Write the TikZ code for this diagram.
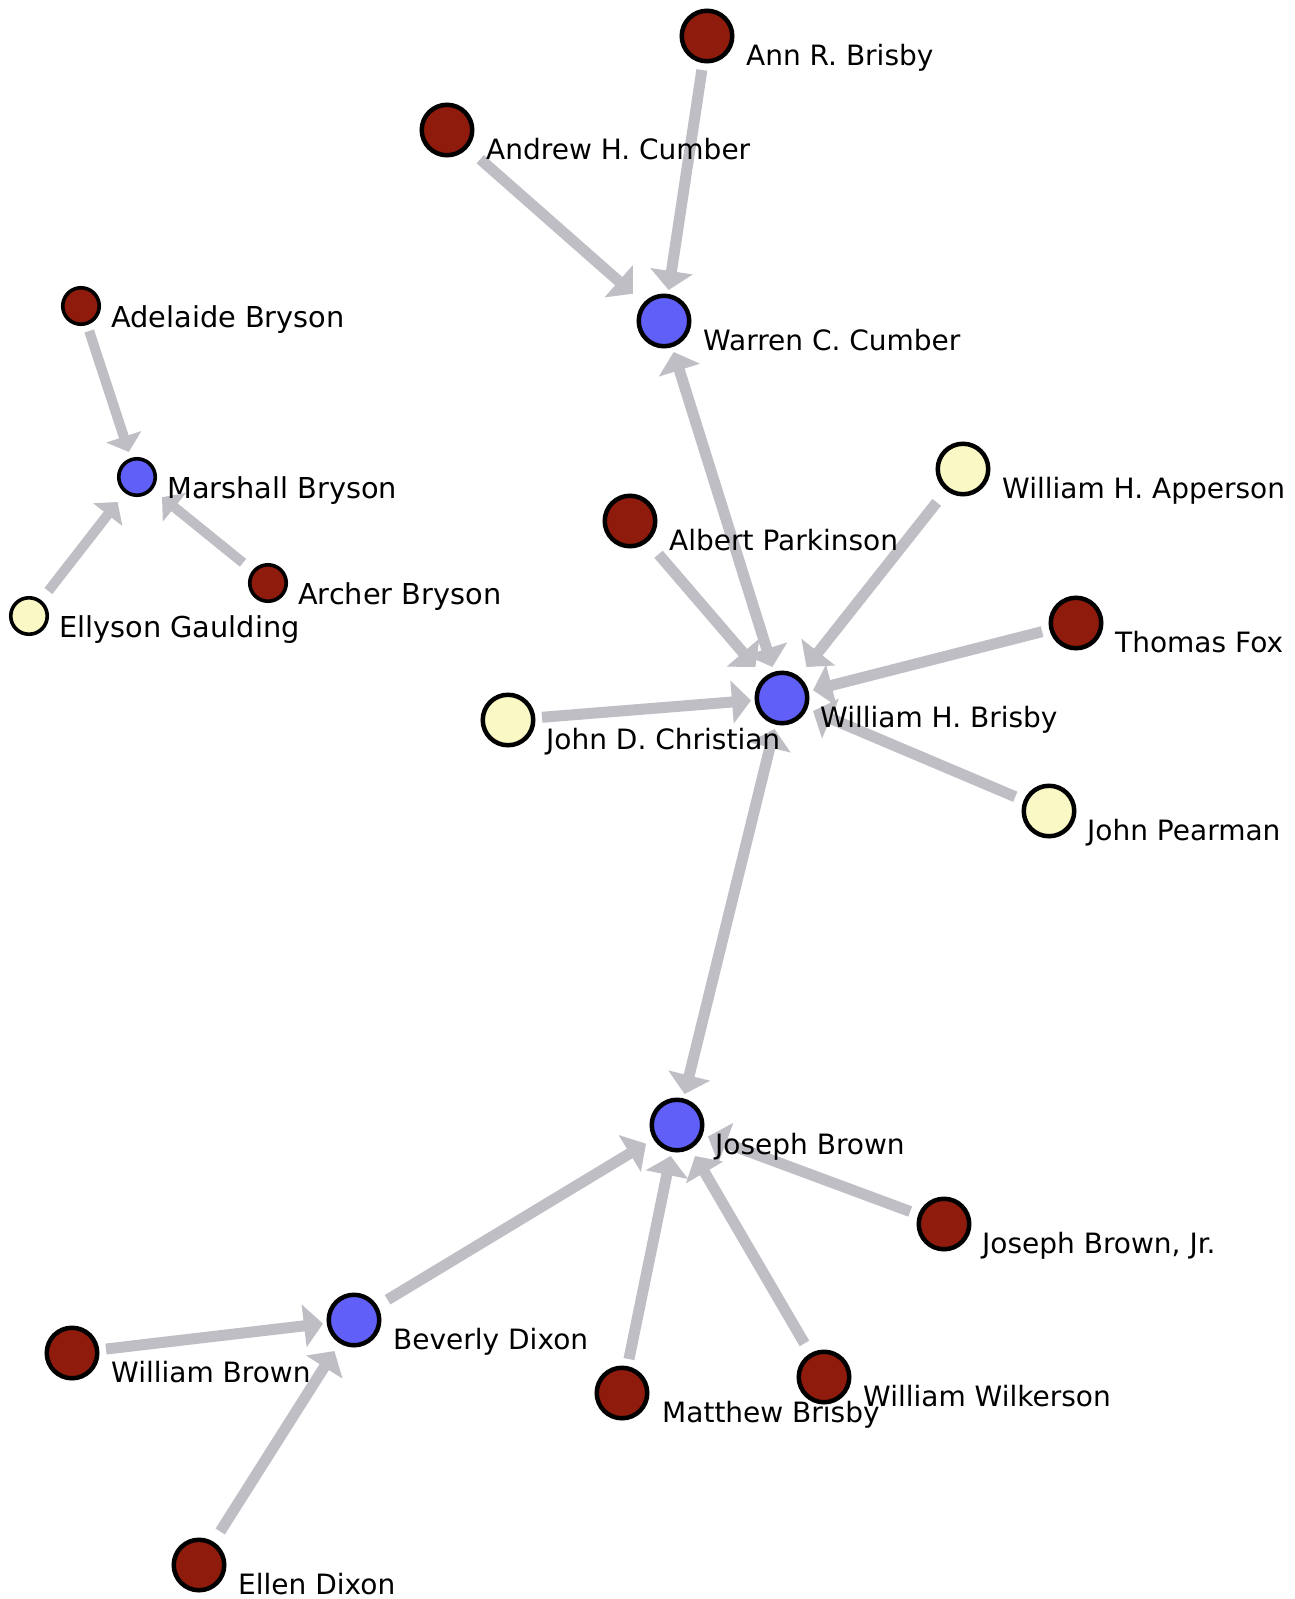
\documentclass[tikz,border=0pt]{standalone}
\usepackage{fontspec}
\setmainfont{DejaVu Sans}
\usetikzlibrary{arrows.meta}
\definecolor{edgegray}{RGB}{190,190,196}
\definecolor{kinred}{RGB}{142,27,12}
\definecolor{kinblue}{RGB}{96,96,248}
\definecolor{kinyellow}{RGB}{250,248,196}
\begin{document}
\begin{tikzpicture}[x=1pt,y=-1pt,
  hub/.style={rectangle, minimum size=62pt, inner sep=0pt, outer sep=0pt},
  hubsmall/.style={rectangle, minimum size=50pt, inner sep=0pt, outer sep=0pt},
  disc/.style={circle, draw=black, line width=4.5pt, minimum size=50.5pt, inner sep=0pt},
  discsmall/.style={circle, draw=black, line width=3.6pt, minimum size=36.5pt, inner sep=0pt},
  personlabel/.style={font=\fontsize{28}{28}\selectfont, anchor=base west, inner sep=0pt, text=black},
  smalllabel/.style={personlabel, font=\fontsize{28.8}{29}\selectfont},
  link/.style={draw=edgegray, line width=11pt, -{Triangle[width=42pt,length=19pt]}, shorten <=3pt},
  mutual/.style={draw=edgegray, line width=11pt, {Triangle[width=42pt,length=19pt]}-{Triangle[width=42pt,length=19pt]}},
  slink/.style={draw=edgegray, line width=10pt, -{Triangle[width=36pt,length=16pt]}},
]
\useasboundingbox (0,0) rectangle (1295,1599);
\fill[white] (0,0) rectangle (1295,1599);

% edge anchors: square boxes around each person
\node[hub] (annR) at (707,36) {};
\node[hub] (andrew) at (447,130) {};
\node[hub] (warren) at (664,321) {};
\node[hubsmall] (adelaide) at (81,306) {};
\node[hubsmall] (marshall) at (137,477) {};
\node[hubsmall] (archer) at (268,583) {};
\node[hubsmall] (ellyson) at (29,616) {};
\node[hub] (apperson) at (963,469) {};
\node[hub] (albert) at (630,521) {};
\node[hub] (thomasFox) at (1076,623) {};
\node[hub] (williamHB) at (782,698) {};
\node[hub] (johnDC) at (508,720) {};
\node[hub] (pearman) at (1049,811) {};
\node[hub] (josephB) at (677,1125) {};
\node[hub] (josephJr) at (944,1224) {};
\node[hub] (beverly) at (354,1320) {};
\node[hub] (williamBrown) at (72,1353) {};
\node[hub] (matthew) at (622,1393) {};
\node[hub] (wilkerson) at (824,1377) {};
\node[hub] (ellen) at (199,1565) {};

% connectors
\draw[link] (annR) -- (warren);
\draw[link] (andrew) -- (warren);
\draw[mutual] (warren) -- (williamHB);
\draw[slink] (adelaide) -- (marshall);
\draw[slink] (ellyson) -- (marshall);
\draw[slink] (archer) -- (marshall);
\draw[link] (albert) -- (williamHB);
\draw[link] (apperson) -- (williamHB);
\draw[link] (thomasFox) -- (williamHB);
\draw[link] (johnDC) -- (williamHB);
\draw[link] (pearman) -- (williamHB);
\draw[mutual] (williamHB) -- (josephB);
\draw[link] (josephJr) -- (josephB);
\draw[link] (beverly) -- (josephB);
\draw[link] (matthew) -- (josephB);
\draw[link] (wilkerson) -- (josephB);
\draw[link] (williamBrown) -- (beverly);
\draw[link] (ellen) -- (beverly);

% people
\node[disc, fill=kinred] (annR-c) at (annR.center) {};
\node[disc, fill=kinred] (andrew-c) at (andrew.center) {};
\node[disc, fill=kinblue] (warren-c) at (warren.center) {};
\node[discsmall, fill=kinred] (adelaide-c) at (adelaide.center) {};
\node[discsmall, fill=kinblue] (marshall-c) at (marshall.center) {};
\node[discsmall, fill=kinred] (archer-c) at (archer.center) {};
\node[discsmall, fill=kinyellow] (ellyson-c) at (ellyson.center) {};
\node[disc, fill=kinyellow] (apperson-c) at (apperson.center) {};
\node[disc, fill=kinred] (albert-c) at (albert.center) {};
\node[disc, fill=kinred] (thomasFox-c) at (thomasFox.center) {};
\node[disc, fill=kinblue] (williamHB-c) at (williamHB.center) {};
\node[disc, fill=kinyellow] (johnDC-c) at (johnDC.center) {};
\node[disc, fill=kinyellow] (pearman-c) at (pearman.center) {};
\node[disc, fill=kinblue] (josephB-c) at (josephB.center) {};
\node[disc, fill=kinred] (josephJr-c) at (josephJr.center) {};
\node[disc, fill=kinblue] (beverly-c) at (beverly.center) {};
\node[disc, fill=kinred] (williamBrown-c) at (williamBrown.center) {};
\node[disc, fill=kinred] (matthew-c) at (matthew.center) {};
\node[disc, fill=kinred] (wilkerson-c) at (wilkerson.center) {};
\node[disc, fill=kinred] (ellen-c) at (ellen.center) {};

% names
\node[personlabel] (annR-l) at (746,65) {Ann R. Brisby};
\node[personlabel] (andrew-l) at (486,159) {Andrew H. Cumber};
\node[personlabel] (warren-l) at (703,350) {Warren C. Cumber};
\node[smalllabel] (adelaide-l) at (111,327) {Adelaide Bryson};
\node[smalllabel] (marshall-l) at (167,498) {Marshall Bryson};
\node[smalllabel] (archer-l) at (298,604) {Archer Bryson};
\node[smalllabel] (ellyson-l) at (59,637) {Ellyson Gaulding};
\node[personlabel] (apperson-l) at (1002,498) {William H. Apperson};
\node[personlabel] (albert-l) at (669,550) {Albert Parkinson};
\node[personlabel] (thomasFox-l) at (1115,652) {Thomas Fox};
\node[personlabel] (williamHB-l) at (820,727) {William H. Brisby};
\node[personlabel] (johnDC-l) at (546,749) {John D. Christian};
\node[personlabel] (pearman-l) at (1087,840) {John Pearman};
\node[personlabel] (josephB-l) at (715,1154) {Joseph Brown};
\node[personlabel] (josephJr-l) at (982,1253) {Joseph Brown, Jr.};
\node[personlabel] (beverly-l) at (393,1349) {Beverly Dixon};
\node[personlabel] (williamBrown-l) at (111,1382) {William Brown};
\node[personlabel] (matthew-l) at (662,1422) {Matthew Brisby};
\node[personlabel] (wilkerson-l) at (863,1406) {William Wilkerson};
\node[personlabel] (ellen-l) at (238,1594) {Ellen Dixon};
\end{tikzpicture}
\end{document}
